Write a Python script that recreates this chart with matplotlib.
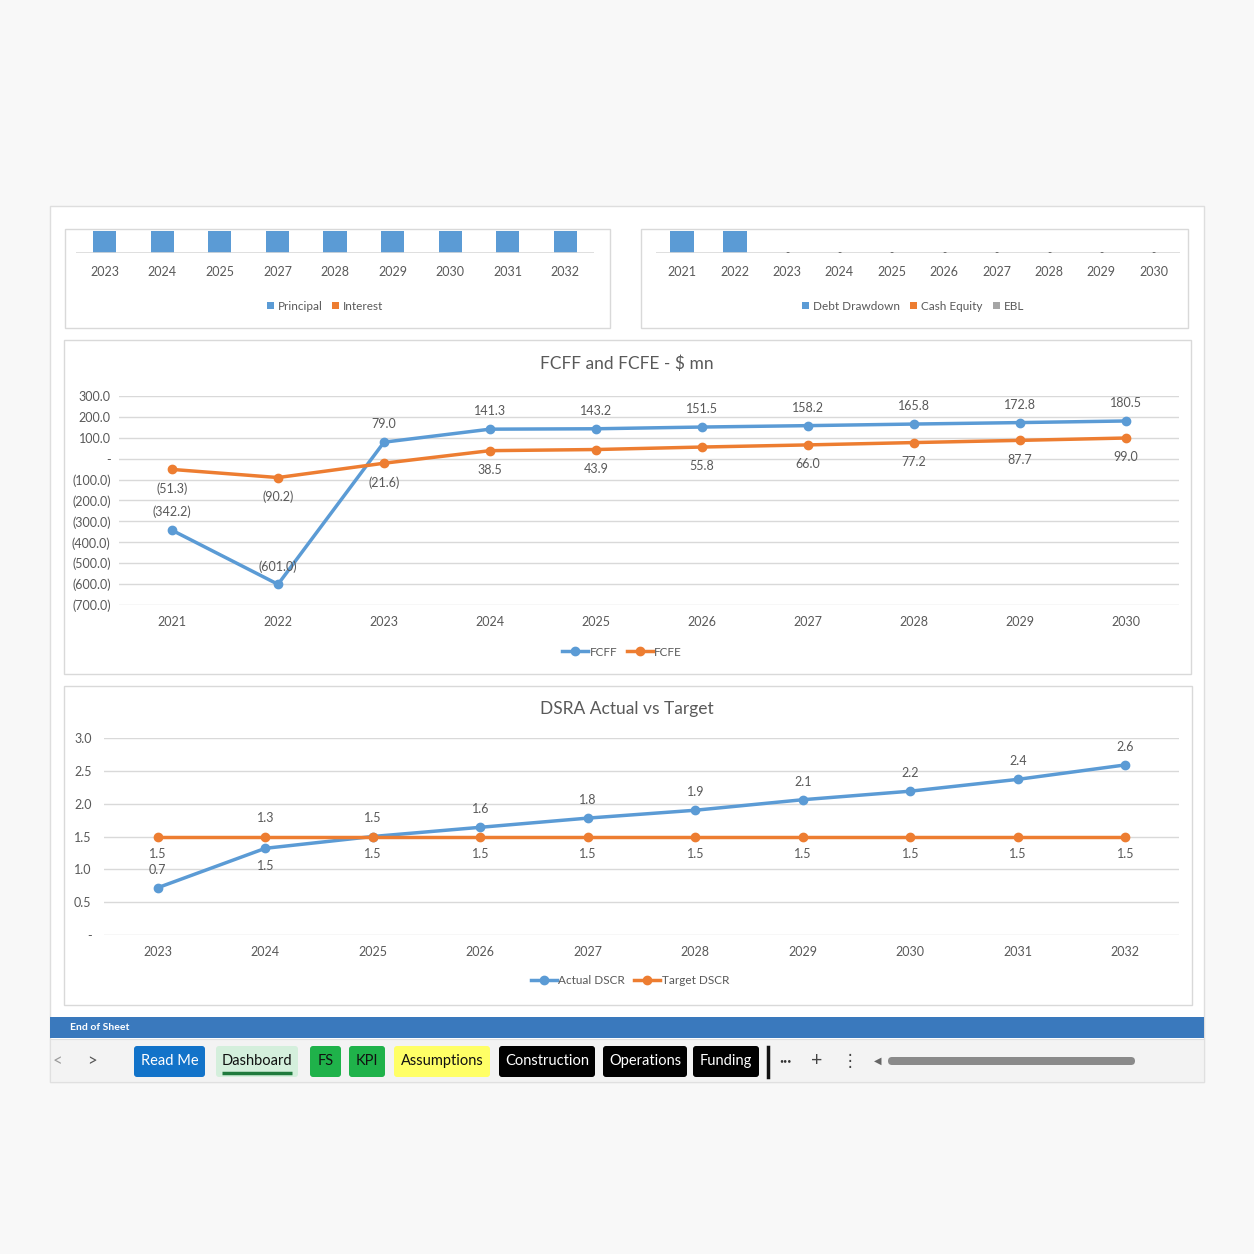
import numpy as np
import matplotlib
matplotlib.use("Agg")
from matplotlib import pyplot as plt
from matplotlib.patches import Rectangle, FancyBboxPatch
from matplotlib.ticker import FuncFormatter

plt.rcParams['font.family'] = ['Lato', 'DejaVu Sans']

# ---- data ----
repay_years = ["2023", "2024", "2025", "2027", "2028", "2029", "2030", "2031", "2032"]
principal = [38.0, 38.0, 38.0, 38.0, 38.0, 38.0, 38.0, 38.0, 38.0]
interest = [12.0, 11.0, 10.0, 9.0, 8.0, 7.0, 6.0, 5.0, 4.0]

fund_years = ["2021", "2022", "2023", "2024", "2025", "2026", "2027", "2028", "2029", "2030"]
debt_drawdown = [420.0, 310.0, 0.0, 0.0, 0.0, 0.0, 0.0, 0.0, 0.0, 0.0]
cash_equity = [60.0, 90.0, 0.0, 0.0, 0.0, 0.0, 0.0, 0.0, 0.0, 0.0]
ebl = [0.0, 0.0, 0.0, 0.0, 0.0, 0.0, 0.0, 0.0, 0.0, 0.0]

fc_years = ["2021", "2022", "2023", "2024", "2025", "2026", "2027", "2028", "2029", "2030"]
fcff = [-342.2, -601.0, 79.0, 141.3, 143.2, 151.5, 158.2, 165.8, 172.8, 180.5]
fcfe = [-51.3, -90.2, -21.6, 38.5, 43.9, 55.8, 66.0, 77.2, 87.7, 99.0]

dscr_years = ["2023", "2024", "2025", "2026", "2027", "2028", "2029", "2030", "2031", "2032"]
actual_dscr = [0.72, 1.32, 1.50, 1.64, 1.78, 1.90, 2.06, 2.19, 2.37, 2.59]
target_dscr = [1.5, 1.5, 1.5, 1.5, 1.5, 1.5, 1.5, 1.5, 1.5, 1.5]

tab_names = ["Read Me", "Dashboard", "FS", "KPI", "Assumptions", "Construction", "Operations", "Funding"]

# ---- styling ----
BLUE = "#5b9bd5"
ORANGE = "#ed7d31"
GREY = "#a5a5a5"
TXT = "#595959"
GRID = "#d9d9d9"
W = H = 1254

fig = plt.figure(figsize=(12.54, 12.54), dpi=100, facecolor="#f8f8f8")

# full-figure layer in pixel coordinates for the sheet furniture
bg = fig.add_axes([0, 0, 1, 1])
bg.set_xlim(0, W)
bg.set_ylim(H, 0)
bg.axis("off")


def px_axes(x0, y0, x1, y1):
    ax = fig.add_axes([x0 / W, 1 - y1 / H, (x1 - x0) / W, (y1 - y0) / H])
    ax.set_facecolor("none")
    for s in ax.spines.values():
        s.set_visible(False)
    return ax


def acct(v):
    if abs(v) < 1e-9:
        return "-"
    s = f"{abs(v):,.1f}"
    return f"({s})" if v < 0 else s


# sheet panel and chart boxes
bg.add_patch(Rectangle((50, 206), 1154, 876, fc="white", ec="#dedede", lw=1))
for (x0, y0, w, h) in [(65, 229, 545, 99), (641, 229, 547, 99),
                       (64, 340, 1127, 334), (64, 686, 1128, 319)]:
    bg.add_patch(Rectangle((x0, y0), w, h, fc="white", ec="#d9d9d9", lw=1))

# ---- top left: debt service bars ----
ax = px_axes(76, 231, 594, 253)
xb = np.arange(len(repay_years))
ax.bar(xb, principal, width=0.4, color=BLUE, label="Principal")
ax.bar(xb, interest, bottom=principal, width=0.4, color=ORANGE, label="Interest")
ax.set_xlim(-0.5, len(repay_years) - 0.5)
ax.set_ylim(0, 8)
ax.axhline(0, color=GRID, lw=1.2)
ax.set_yticks([])
ax.set_xticks(xb, repay_years)
ax.tick_params(length=0, colors=TXT, labelsize=9, pad=9.5)
ax.legend(loc="center", bbox_to_anchor=(325 / W, 1 - 306 / H), bbox_transform=fig.transFigure,
          ncol=2, frameon=False, fontsize=8.5, labelcolor=TXT, handlelength=0.6,
          handleheight=0.6, handletextpad=0.3, columnspacing=0.8)

# ---- top right: funding bars ----
ax = px_axes(656, 231, 1180, 253)
xf = np.arange(len(fund_years))
ax.bar(xf, debt_drawdown, width=0.46, color=BLUE, label="Debt Drawdown")
ax.bar(xf, cash_equity, bottom=debt_drawdown, width=0.46, color=ORANGE, label="Cash Equity")
ax.bar(xf, ebl, bottom=np.add(debt_drawdown, cash_equity), width=0.46, color=GREY, label="EBL")
ax.set_xlim(-0.5, len(fund_years) - 0.5)
ax.set_ylim(0, 8)
ax.axhline(0, color=GRID, lw=1.2)
for i in xf:
    if debt_drawdown[i] + cash_equity[i] + ebl[i] == 0:
        ax.annotate("-", (i, 0), xytext=(0, 0), textcoords="offset points",
                    ha="center", va="center", fontsize=8, color=TXT)
ax.set_yticks([])
ax.set_xticks(xf, fund_years)
ax.tick_params(length=0, colors=TXT, labelsize=9, pad=9.5)
ax.legend(loc="center", bbox_to_anchor=(913 / W, 1 - 306 / H), bbox_transform=fig.transFigure,
          ncol=3, frameon=False, fontsize=8.5, labelcolor=TXT, handlelength=0.6,
          handleheight=0.6, handletextpad=0.3, columnspacing=0.9)

# ---- FCFF and FCFE ----
bg.text(627, 364, "FCFF and FCFE - $ mn", ha="center", va="center", fontsize=12.5, color=TXT)
ax = px_axes(119, 396, 1179, 605)
x = np.arange(len(fc_years))
ax.plot(x, fcff, color=BLUE, lw=2.5, marker="o", ms=6, label="FCFF")
ax.plot(x, fcfe, color=ORANGE, lw=2.5, marker="o", ms=6, label="FCFE")
for i in x:
    ax.annotate(acct(fcff[i]), (i, fcff[i]), xytext=(0, 13), textcoords="offset points",
                ha="center", va="center", fontsize=9, color=TXT)
    ax.annotate(acct(fcfe[i]), (i, fcfe[i]), xytext=(0, -14), textcoords="offset points",
                ha="center", va="center", fontsize=9, color=TXT)
ax.set_xlim(-0.5, len(fc_years) - 0.5)
ax.set_ylim(-700, 300)
ax.set_yticks(np.arange(-700, 301, 100))
ax.yaxis.set_major_formatter(FuncFormatter(lambda v, p: acct(v)))
ax.set_xticks(x, fc_years)
ax.grid(axis="y", color=GRID, lw=1)
ax.set_axisbelow(True)
ax.tick_params(length=0, colors=TXT, labelsize=9)
ax.tick_params(axis="x", pad=8)
ax.tick_params(axis="y", pad=6)
ax.legend(loc="center", bbox_to_anchor=(622 / W, 1 - 652 / H), bbox_transform=fig.transFigure,
          ncol=2, frameon=False, fontsize=8.5, labelcolor=TXT, handlelength=2.2,
          handletextpad=0.1, columnspacing=0.8)

# ---- DSRA Actual vs Target ----
bg.text(627, 709, "DSRA Actual vs Target", ha="center", va="center", fontsize=12.5, color=TXT)
ax = px_axes(104, 738, 1179, 935)
x = np.arange(len(dscr_years))
ax.plot(x, actual_dscr, color=BLUE, lw=2.5, marker="o", ms=6, label="Actual DSCR")
ax.plot(x, target_dscr, color=ORANGE, lw=2.5, marker="o", ms=6, label="Target DSCR")
for i in x:
    a, t = actual_dscr[i], target_dscr[i]
    # Excel nudges the labels apart when actual sits just under target
    if a < t and t - a < 0.5:
        a_anchor, t_anchor = t, a
    else:
        a_anchor, t_anchor = a, t
    ax.annotate(f"{a:.1f}", (i, a_anchor), xytext=(0, 13), textcoords="offset points",
                ha="center", va="center", fontsize=9, color=TXT)
    ax.annotate(f"{t:.1f}", (i, t_anchor), xytext=(0, -12.5), textcoords="offset points",
                ha="center", va="center", fontsize=9, color=TXT)
ax.set_xlim(-0.5, len(dscr_years) - 0.5)
ax.set_ylim(0, 3)
ax.set_yticks(np.arange(0, 3.01, 0.5))
ax.yaxis.set_major_formatter(FuncFormatter(lambda v, p: "-" if v == 0 else f"{v:.1f}"))
ax.set_xticks(x, dscr_years)
ax.grid(axis="y", color=GRID, lw=1)
ax.set_axisbelow(True)
ax.tick_params(length=0, colors=TXT, labelsize=9)
ax.tick_params(axis="x", pad=8)
ax.tick_params(axis="y", pad=9)
ax.legend(loc="center", bbox_to_anchor=(630 / W, 1 - 981 / H), bbox_transform=fig.transFigure,
          ncol=2, frameon=False, fontsize=8.5, labelcolor=TXT, handlelength=2.2,
          handletextpad=0.1, columnspacing=0.8)

# ---- sheet footer and tab strip ----
bg.add_patch(Rectangle((50, 1017), 1154, 21, fc="#3a79bd", ec="none"))
bg.text(70, 1028, "End of Sheet", ha="left", va="center", fontsize=7.5, color="white", weight="bold")
bg.add_patch(Rectangle((50, 1039), 1154, 43, fc="#f3f3f3", ec="#e0e0e0", lw=0.8))

bg.text(57, 1061, "<", ha="center", va="center", fontsize=12, color="#9a9a9a")
bg.text(92, 1061, ">", ha="center", va="center", fontsize=12, color="#555555")

tab_x = [(134, 205), (216, 298), (310, 341), (349, 385), (394, 490), (499, 595), (603, 687), (693, 759)]
tab_fc = ["#1273c9", "#d4efdc", "#1fb24a", "#1fb24a", "#ffff66", "#000000", "#000000", "#000000"]
tab_tc = ["white", "#111111", "#111111", "#111111", "#111111", "white", "white", "white"]
for name, (x0, x1), fc, tc in zip(tab_names, tab_x, tab_fc, tab_tc):
    bg.add_patch(FancyBboxPatch((x0, 1046), x1 - x0, 31, boxstyle="round,pad=0,rounding_size=3",
                                fc=fc, ec="none"))
    bg.text((x0 + x1) / 2, 1061, name, ha="center", va="center", fontsize=10.5, color=tc)
bg.plot([222, 292], [1073, 1073], color="#1f7a3d", lw=2.5, solid_capstyle="butt")

bg.plot([768, 768], [1047, 1077], color="#111111", lw=2.5)
bg.text(785, 1061, "\u2022\u2022\u2022", ha="center", va="center", fontsize=5, color="#333333")
bg.text(817, 1061, "+", ha="center", va="center", fontsize=14, color="#444444")
bg.text(850, 1061, "\u22ee", ha="center", va="center", fontsize=12, color="#444444",
        family=["DejaVu Sans"])
bg.text(878, 1061, "\u25c0", ha="center", va="center", fontsize=7, color="#666666",
        family=["DejaVu Sans"])
bg.add_patch(FancyBboxPatch((888, 1057), 247, 8, boxstyle="round,pad=0,rounding_size=4",
                            fc="#8a8a8a", ec="none"))

fig.savefig("out.png", dpi=100, facecolor=fig.get_facecolor())
